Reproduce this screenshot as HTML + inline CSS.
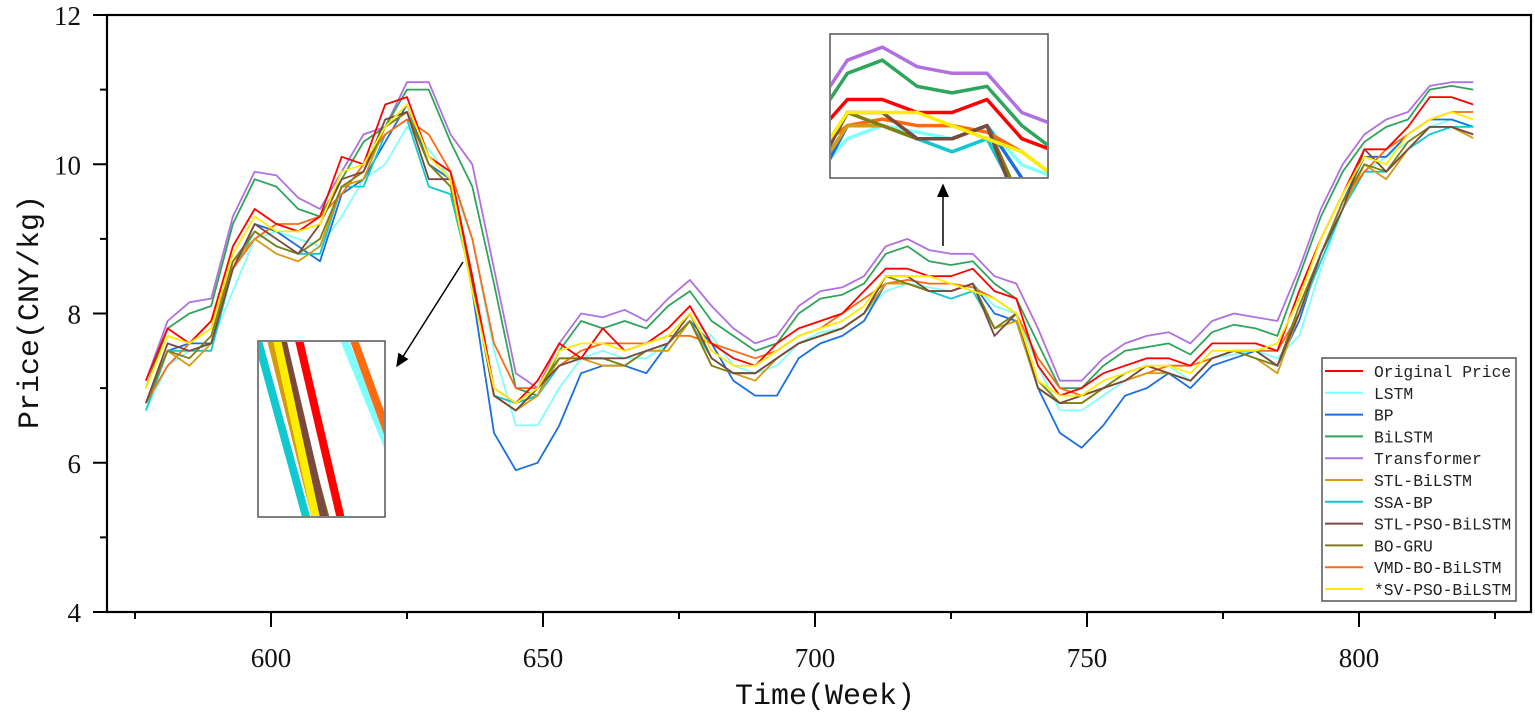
<!DOCTYPE html>
<html><head><meta charset="utf-8"><style>
html,body{margin:0;padding:0;background:#fff;overflow:hidden;width:1535px;height:726px;}
svg{display:block;overflow:hidden;}
</style></head><body>
<svg id="chart" width="1535" height="726" viewBox="0 0 1535 726" xmlns="http://www.w3.org/2000/svg">
<defs>
<clipPath id="clipTop"><rect x="831" y="35" width="216" height="142"/></clipPath>
<clipPath id="clipBot"><rect x="259" y="342" width="125" height="174"/></clipPath>
<marker id="arrowHead" markerWidth="10" markerHeight="10" refX="8" refY="5" orient="auto"><path d="M0,1 L9,5 L0,9 z" fill="#000"/></marker>
</defs>
<g id="plot"></g>
</svg>
<script>
const weeks=[577,581,585,589,593,597,601,605,609,613,617,621,625,629,633,637,641,645,649,653,657,661,665,669,673,677,681,685,689,693,697,701,705,709,713,717,721,725,729,733,737,741,745,749,753,757,761,765,769,773,777,781,785,789,793,797,801,805,809,813,817,821];
const originalPrice=[7.1,7.8,7.6,7.9,8.9,9.4,9.2,9.1,9.3,10.1,10.0,10.8,10.9,10.1,9.9,8.5,7.0,6.8,7.1,7.6,7.4,7.8,7.5,7.6,7.8,8.1,7.6,7.4,7.3,7.6,7.8,7.9,8.0,8.3,8.6,8.6,8.5,8.5,8.6,8.3,8.2,7.3,6.9,7.0,7.2,7.3,7.4,7.4,7.3,7.6,7.6,7.6,7.5,8.3,9.0,9.6,10.2,10.2,10.5,10.9,10.9,10.8];
const lstm=[6.7,7.3,7.5,7.6,8.3,9.0,9.1,9.0,8.9,9.3,9.8,10.0,10.5,10.2,9.8,9.0,7.5,6.5,6.5,7.0,7.4,7.5,7.4,7.4,7.6,7.9,7.7,7.3,7.2,7.3,7.6,7.75,7.8,8.0,8.3,8.4,8.35,8.3,8.4,8.1,8.0,7.3,6.7,6.7,6.9,7.1,7.2,7.3,7.1,7.4,7.45,7.5,7.4,7.7,8.6,9.4,9.9,10.1,10.3,10.5,10.6,10.5];
const bp=[6.8,7.5,7.6,7.6,8.6,9.2,9.1,8.9,8.7,9.6,9.8,10.3,10.8,10.0,9.8,8.3,6.4,5.9,6.0,6.5,7.2,7.3,7.3,7.2,7.6,7.9,7.6,7.1,6.9,6.9,7.4,7.6,7.7,7.9,8.4,8.4,8.3,8.3,8.4,8.0,7.9,7.0,6.4,6.2,6.5,6.9,7.0,7.2,7.0,7.3,7.4,7.5,7.3,7.9,8.8,9.5,10.1,10.1,10.4,10.6,10.6,10.5];
const bilstm=[7.0,7.8,8.0,8.1,9.2,9.8,9.7,9.4,9.3,9.8,10.3,10.5,11.0,11.0,10.3,9.7,8.4,7.0,6.9,7.5,7.9,7.8,7.9,7.8,8.1,8.3,7.9,7.7,7.5,7.6,8.0,8.2,8.25,8.4,8.8,8.9,8.7,8.65,8.7,8.4,8.2,7.6,7.0,7.0,7.3,7.5,7.55,7.6,7.45,7.75,7.85,7.8,7.7,8.5,9.3,9.9,10.3,10.5,10.6,11.0,11.05,11.0];
const transformer=[7.1,7.9,8.15,8.2,9.3,9.9,9.85,9.55,9.4,9.9,10.4,10.5,11.1,11.1,10.4,10.0,8.6,7.2,7.0,7.6,8.0,7.95,8.05,7.9,8.2,8.45,8.1,7.8,7.6,7.7,8.1,8.3,8.35,8.5,8.9,9.0,8.85,8.8,8.8,8.5,8.4,7.8,7.1,7.1,7.4,7.6,7.7,7.75,7.6,7.9,8.0,7.95,7.9,8.6,9.4,10.0,10.4,10.6,10.7,11.05,11.1,11.1];
const stlBilstm=[6.8,7.5,7.3,7.6,8.7,9.0,8.8,8.7,8.9,9.7,9.8,10.5,10.7,10.0,9.7,8.4,6.9,6.7,6.9,7.4,7.4,7.3,7.3,7.5,7.5,7.9,7.3,7.2,7.1,7.4,7.6,7.7,7.8,8.0,8.4,8.4,8.3,8.3,8.4,7.8,7.9,7.0,6.8,6.8,7.0,7.1,7.2,7.2,7.1,7.4,7.5,7.4,7.2,8.0,8.8,9.4,10.0,9.8,10.2,10.5,10.5,10.35];
const ssaBp=[6.7,7.5,7.5,7.5,8.6,9.1,8.9,8.8,8.8,9.7,9.7,10.4,10.6,9.7,9.6,8.4,6.9,6.8,6.9,7.3,7.4,7.4,7.3,7.5,7.6,7.9,7.4,7.2,7.2,7.4,7.6,7.7,7.8,8.0,8.4,8.4,8.3,8.2,8.3,7.8,7.9,7.0,6.8,6.8,7.0,7.2,7.3,7.2,7.1,7.4,7.5,7.4,7.3,8.0,8.7,9.4,9.9,9.9,10.2,10.4,10.5,10.5];
const stlPsoBilstm=[6.8,7.6,7.5,7.6,8.6,9.2,9.0,8.8,9.2,9.8,9.9,10.6,10.7,9.8,9.8,8.4,6.9,6.7,7.0,7.3,7.4,7.4,7.4,7.5,7.6,8.0,7.4,7.2,7.2,7.4,7.6,7.7,7.8,8.0,8.5,8.5,8.3,8.3,8.4,7.7,8.0,7.0,6.8,6.9,7.0,7.1,7.3,7.2,7.1,7.4,7.5,7.5,7.3,8.0,8.8,9.4,10.2,9.9,10.2,10.5,10.5,10.4];
const boGru=[6.8,7.5,7.4,7.7,8.7,9.1,8.9,8.8,9.0,9.7,9.9,10.5,10.7,10.0,9.7,8.5,6.9,6.7,7.0,7.4,7.4,7.4,7.3,7.5,7.6,7.9,7.3,7.2,7.2,7.4,7.6,7.7,7.8,8.0,8.5,8.4,8.3,8.3,8.4,7.8,8.0,7.1,6.8,6.8,7.0,7.2,7.3,7.2,7.1,7.4,7.5,7.4,7.3,8.1,8.8,9.5,10.0,9.9,10.3,10.5,10.5,10.4];
const vmdBoBilstm=[6.8,7.3,7.6,7.9,8.6,9.0,9.2,9.2,9.3,9.6,10.0,10.4,10.6,10.4,9.9,9.0,7.6,7.0,7.0,7.3,7.5,7.6,7.6,7.6,7.7,7.7,7.6,7.5,7.4,7.5,7.7,7.8,8.0,8.2,8.4,8.45,8.4,8.4,8.35,8.2,8.0,7.4,7.0,6.9,7.0,7.1,7.2,7.3,7.3,7.4,7.5,7.5,7.5,8.0,8.8,9.5,9.9,10.2,10.4,10.6,10.7,10.7];
const svPsoBilstm=[7.0,7.7,7.6,7.8,8.8,9.3,9.1,9.1,9.2,9.9,10.0,10.5,10.8,10.1,9.8,8.3,7.0,6.8,7.0,7.5,7.6,7.6,7.5,7.6,7.7,8.0,7.5,7.3,7.3,7.5,7.7,7.8,7.9,8.1,8.5,8.5,8.5,8.4,8.3,8.2,8.0,7.1,6.9,6.9,7.1,7.2,7.3,7.3,7.2,7.5,7.5,7.5,7.6,8.2,9.0,9.6,10.1,10.0,10.4,10.6,10.7,10.6];
const seriesNames=["Original Price","LSTM","BP","BiLSTM","Transformer","STL-BiLSTM","SSA-BP","STL-PSO-BiLSTM","BO-GRU","VMD-BO-BiLSTM","*SV-PSO-BiLSTM"];
const xTicks=[600,650,700,750,800];
const yTicks=[4,6,8,10,12];

const seriesData=[originalPrice,lstm,bp,bilstm,transformer,stlBilstm,ssaBp,stlPsoBilstm,boGru,vmdBoBilstm,svPsoBilstm];
const colors=["#ff0000","#80ffff","#1a6fe0","#2ea55a","#b070e0","#d49a10","#10c8d0","#7a4a40","#808010","#ff6a10","#ffee00"];
const drawOrder=[4,3,1,2,6,9,5,8,7,0,10];
const keys=["original-price","lstm","bp","bilstm","transformer","stl-bilstm","ssa-bp","stl-pso-bilstm","bo-gru","vmd-bo-bilstm","sv-pso-bilstm"];
const NS="http://www.w3.org/2000/svg";
const L=107,R=1531,T=15,B=612;
const xScale=w=>271+(w-600)*5.44;
const yScale=v=>B-(v-4)*(B-T)/8;
const plot=document.getElementById('plot');
function mk(tag,attrs,parent){const e=document.createElementNS(NS,tag);for(const k in attrs)e.setAttribute(k,attrs[k]);(parent||plot).appendChild(e);return e;}

drawOrder.forEach(i=>{
  const d=seriesData[i];
  const n=Math.min(d.length,weeks.length);
  let pts=[];for(let j=0;j<n;j++)pts.push(xScale(weeks[j]).toFixed(1)+','+yScale(d[j]).toFixed(1));
  const p=mk('polyline',{points:pts.join(' '),fill:'none',stroke:colors[i],'stroke-width':1.8,'stroke-linejoin':'round'});
  
  
});

function inset(clipId,bx,by,bw,bh,w0,w1,v0,v1,sw,name){
  const g=mk('g',{'clip-path':'url(#'+clipId+')'});
  
  
  const sx=w=>bx+(w-w0)/(w1-w0)*bw, sy=v=>by+bh-(v-v0)/(v1-v0)*bh;
  drawOrder.forEach(i=>{
    const d=seriesData[i];let pts=[];
    for(let j=0;j<Math.min(d.length,weeks.length);j++)pts.push(sx(weeks[j]).toFixed(1)+','+sy(d[j]).toFixed(1));
    const p=mk('polyline',{points:pts.join(' '),fill:'none',stroke:colors[i],'stroke-width':sw,'stroke-linejoin':'round'},g);
    
    
  });
  const r=mk('rect',{x:bx,y:by,width:bw,height:bh,fill:'none',stroke:'#555','stroke-width':1.5});
  
  
}
const bgTop=mk('rect',{x:830,y:34,width:218,height:144,fill:'#fff'});


inset('clipTop',830,34,218,144,711,736,8.0,9.1,3.5,'inset-top');
const bgBot=mk('rect',{x:258,y:341,width:127,height:176,fill:'#fff'});


inset('clipBot',258,341,127,176,634.0,636.2,9.05,9.3,8,'inset-bottom');

const a1=mk('line',{x1:463,y1:262,x2:397,y2:366,stroke:'#000','stroke-width':1.5,'marker-end':'url(#arrowHead)'});


const a2=mk('line',{x1:943,y1:246,x2:943,y2:185,stroke:'#000','stroke-width':1.5,'marker-end':'url(#arrowHead)'});



const fr=mk('rect',{x:L,y:T,width:R-L,height:B-T,fill:'none',stroke:'#000','stroke-width':2.2});



for(let w=575;w<=825;w+=25){
  const major=w%50===0;
  const t=mk('line',{x1:xScale(w),y1:B,x2:xScale(w),y2:B+(major?15:7),stroke:'#000','stroke-width':2});
  
  
}
xTicks.forEach(w=>{
  const t=mk('text',{x:xScale(w),y:B+55,'text-anchor':'middle','font-family':'Liberation Serif, serif','font-size':27,fill:'#111'});
  t.textContent=w;
  
  
});
for(let v=4;v<=12;v+=1){
  const t=mk('line',{x1:L-(v%2===0?14:7),y1:yScale(v),x2:L,y2:yScale(v),stroke:'#000','stroke-width':2});
  
  
}
yTicks.forEach(v=>{
  const t=mk('text',{x:L-26,y:yScale(v)+10,'text-anchor':'end','font-family':'Liberation Serif, serif','font-size':27,fill:'#111'});
  t.textContent=v;
  
  
});
const xt=mk('text',{x:825,y:704,'text-anchor':'middle','font-family':'Liberation Mono, monospace','font-size':30,fill:'#111'});
xt.textContent='Time(Week)';


const yt=mk('text',{x:0,y:0,'text-anchor':'middle','font-family':'Liberation Mono, monospace','font-size':30,fill:'#111',transform:'translate(38,312) rotate(-90)'});
yt.textContent='Price(CNY/kg)';



const lg=mk('g',{});


const lb=mk('rect',{x:1322,y:358,width:194,height:243,fill:'#fff',stroke:'#555','stroke-width':1.5},lg);


seriesNames.forEach((nm,i)=>{
  const y=371+i*21.8;
  const ln=mk('line',{x1:1325,y1:y,x2:1363,y2:y,stroke:colors[i],'stroke-width':2},lg);
  
  
  const tx=mk('text',{x:1374,y:y+6,'font-family':'Liberation Mono, monospace','font-size':16.5,fill:'#222',textLength:nm.length*9.8,lengthAdjust:'spacingAndGlyphs'},lg);
  tx.textContent=nm;
  
  
});
</script>
</body></html>
